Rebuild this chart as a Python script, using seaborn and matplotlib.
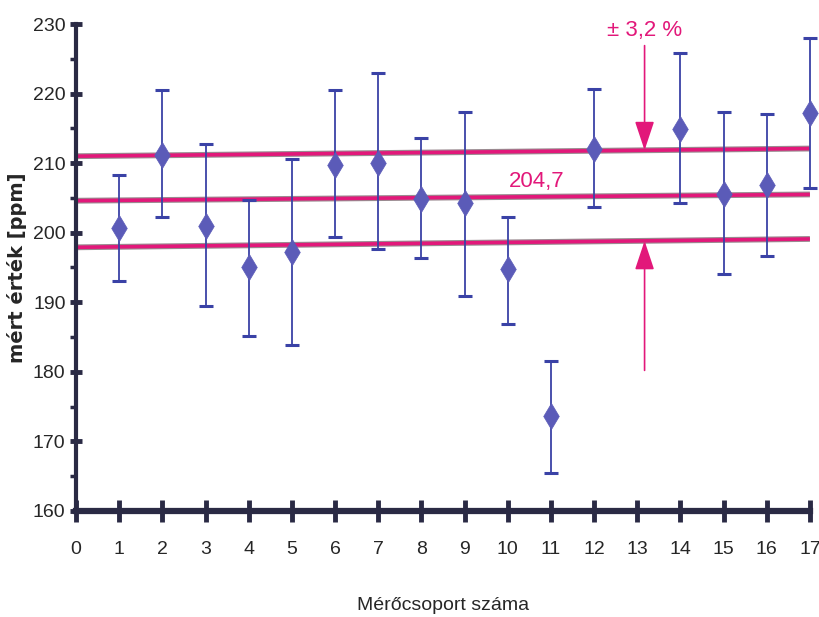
"""
Mérőcsoportok mért értékei hibasávokkal, átlag és ±3,2 % sáv.
"""

import matplotlib
matplotlib.use("Agg")
import matplotlib.pyplot as plt
import seaborn as sns
import pandas as pd

groups = [1, 2, 3, 4, 5, 6, 7, 8, 9, 10, 11, 12, 14, 15, 16, 17]
values = [200.7, 211.2, 201.0, 195.0, 197.2, 209.7, 210.0, 204.9, 204.2,
          194.8, 173.6, 212.1, 214.9, 205.6, 206.8, 217.2]
upper = [208.3, 220.5, 212.8, 204.7, 210.6, 220.5, 222.9, 213.6, 217.3,
         202.3, 181.5, 220.7, 225.8, 217.3, 217.1, 228.0]
lower = [193.1, 202.2, 189.5, 185.2, 183.8, 199.4, 197.7, 196.4, 190.9,
         186.9, 165.5, 203.7, 204.2, 194.1, 196.6, 206.4]

mean_value = 204.7
tolerance_pct = 3.2
# reference lines as scanned (slightly tilted): value at x=0 and x=17
line_ends = {
    "upper": (211.0, 212.1),
    "mean": (204.6, 205.5),
    "lower": (197.9, 199.1),
}
x_ticks = list(range(0, 18))
y_ticks = list(range(160, 231, 10))

sns.set_theme(style="white")
plt.rcParams["font.family"] = ["Liberation Sans", "DejaVu Sans"]

MAGENTA = "#e2187a"
BLUE = "#3a42a6"
MARKER = "#5b5bb8"
AXIS = "#2a2a44"

df = pd.DataFrame({"group": groups, "value": values, "upper": upper, "lower": lower})

fig = plt.figure(figsize=(8.2, 6.17), dpi=100)
ax = fig.add_axes([0.0927, 0.172, 0.895, 0.789])

# reference lines (gray fringe with magenta body)
for key, (y0, y1) in line_ends.items():
    ax.plot([0, 17], [y0, y1], color="#9a8a90", linewidth=4.2, zorder=1, solid_capstyle="butt")
    ax.plot([0, 17], [y0, y1], color=MAGENTA, linewidth=2.6, zorder=1.1, solid_capstyle="butt")

eb = ax.errorbar(df["group"], df["value"],
                 yerr=[df["value"] - df["lower"], df["upper"] - df["value"]],
                 fmt="none", ecolor=BLUE, elinewidth=1.3, capsize=5, capthick=2.2, zorder=2)
for artist in eb.lines[1] + eb.lines[2]:
    artist.set_clip_on(False)
sns.scatterplot(data=df, x="group", y="value", marker="d", s=175, color=MARKER,
                edgecolor=MARKER, linewidth=0.5, zorder=3, ax=ax, legend=False,
                clip_on=False)


def line_at(key, x):
    y0, y1 = line_ends[key]
    return y0 + (y1 - y0) * x / 17


# arrows for ±3,2 %
arrow_x = 13.17
head = dict(arrowstyle="-|>,head_length=1.5,head_width=0.5", color=MAGENTA, lw=1.2,
            shrinkA=0, shrinkB=0)
ax.annotate("", xy=(arrow_x, line_at("upper", arrow_x)), xytext=(arrow_x, 226.9),
            arrowprops=head, zorder=4)
ax.annotate("", xy=(arrow_x, line_at("lower", arrow_x)), xytext=(arrow_x, 180.2),
            arrowprops=head, zorder=4)
ax.text(arrow_x, 227.6, f"± {str(tolerance_pct).replace('.', ',')} %", color=MAGENTA,
        fontsize=16, ha="center", va="bottom")
ax.text(10.67, 205.9, str(mean_value).replace(".", ","), color=MAGENTA,
        fontsize=16, ha="center", va="bottom")

ax.set_xlim(0, 17)
ax.set_ylim(160, 230)
ax.set_xticks(x_ticks)
ax.set_yticks(y_ticks)
ax.set_yticks(list(range(165, 230, 10)), minor=True)
ax.tick_params(axis="x", which="major", direction="inout", length=16, width=3.5,
               color=AXIS, labelsize=14, pad=14, bottom=True)
ax.tick_params(axis="y", which="major", direction="inout", length=9, width=3.5,
               color=AXIS, labelsize=14, pad=3, left=True)
ax.tick_params(axis="y", which="minor", direction="out", length=4, width=2.5,
               color=AXIS, left=True)

for side in ["top", "right"]:
    ax.spines[side].set_visible(False)
ax.spines["left"].set_color(AXIS)
ax.spines["left"].set_linewidth(3)
ax.spines["bottom"].set_color(AXIS)
ax.spines["bottom"].set_linewidth(4.5)
ax.grid(False)

ax.set_xlabel("Mérőcsoport száma", fontsize=14, labelpad=28)
ax.set_ylabel("mért érték [ppm]", fontsize=14, fontweight="bold", labelpad=4,
              family=["DejaVu Sans"])

fig.savefig("out.png", dpi=100)
